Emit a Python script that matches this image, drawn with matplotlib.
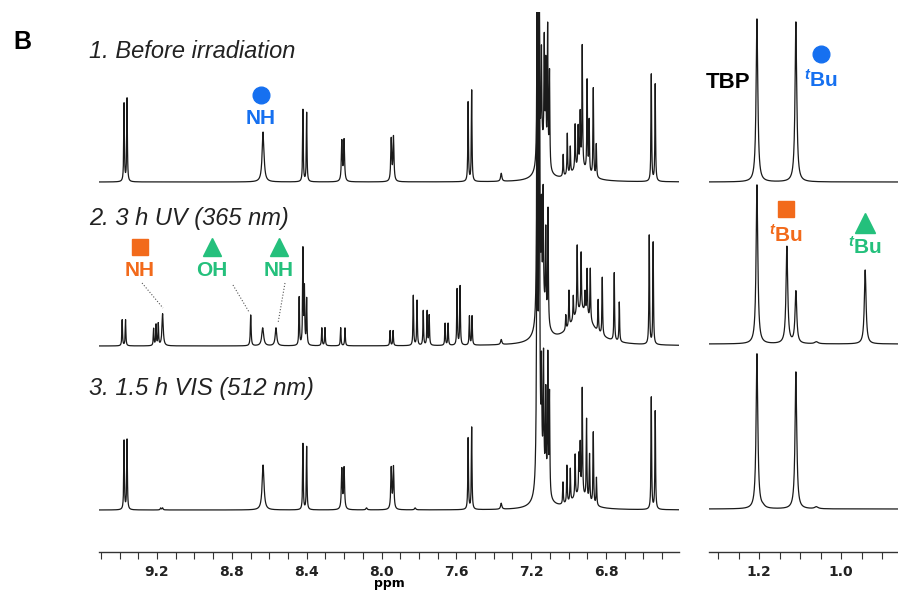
import numpy as np
import matplotlib
matplotlib.use("Agg")
from matplotlib import pyplot as plt
from matplotlib.ticker import MultipleLocator, FuncFormatter

plt.rcParams['font.family'] = ['Liberation Sans', 'DejaVu Sans']
plt.rcParams['mathtext.fontset'] = 'custom'
plt.rcParams['mathtext.rm'] = 'Liberation Sans:bold'
plt.rcParams['mathtext.it'] = 'Liberation Sans:italic:bold'
plt.rcParams['mathtext.bf'] = 'Liberation Sans:bold'

BLUE = "#1670f0"
ORANGE = "#f26a1b"
GREEN = "#24c07c"
LINE = "#1a1a1a"

# ---------------- peak lists (ppm, height, linewidth) ----------------
# aromatic window, 1. before irradiation
t1_ppm = [9.376, 9.360, 8.633, 8.420, 8.400, 8.212, 8.200, 7.948, 7.936, 7.537, 7.518,
          7.360, 7.168, 7.157, 7.145, 7.130, 7.122, 7.112, 7.102, 7.140,
          7.029, 7.007, 6.991, 6.965, 6.949, 6.938, 6.927, 6.901, 6.890, 6.868, 6.852, 6.940,
          6.558, 6.537]
t1_height = [78, 83, 50, 72, 69, 40, 41, 42, 44, 80, 91,
             8, 160, 150, 95, 110, 90, 135, 95, 32,
             22, 42, 27, 45, 40, 52, 122, 92, 52, 88, 33, 14,
             107, 98]
t1_width = [0.004, 0.004, 0.012, 0.004, 0.004, 0.006, 0.006, 0.006, 0.006, 0.004, 0.004,
            0.008, 0.005, 0.005, 0.004, 0.004, 0.004, 0.004, 0.004, 0.05,
            0.004, 0.004, 0.004, 0.004, 0.004, 0.004, 0.004, 0.004, 0.004, 0.004, 0.004, 0.10,
            0.004, 0.004]

# 2. 3 h UV (365 nm)
t2_ppm = [9.386, 9.368, 9.218, 9.205, 9.193, 9.170, 8.699, 8.635, 8.564,
          8.440, 8.420, 8.412, 8.400, 8.319, 8.302, 8.218, 8.195, 7.954, 7.938,
          7.830, 7.810, 7.777, 7.756, 7.745, 7.660, 7.644, 7.596, 7.580, 7.530, 7.516,
          7.360, 7.168, 7.157, 7.145, 7.136, 7.122, 7.110, 7.140,
          7.015, 6.998, 6.975, 6.954, 6.933, 6.912, 6.901, 6.884, 6.842, 6.820, 6.756, 6.729, 6.930,
          6.569, 6.548]
t2_height = [26, 26, 17, 21, 22, 32, 31, 18, 18,
             48, 95, 55, 46, 18, 18, 18, 18, 15, 15,
             50, 45, 35, 34, 30, 22, 22, 56, 59, 29, 29,
             5, 360, 360, 90, 110, 85, 115, 35,
             15, 36, 24, 68, 58, 20, 46, 52, 32, 58, 68, 40, 35,
             110, 102]
t2_width = [0.004, 0.004, 0.004, 0.004, 0.004, 0.008, 0.005, 0.012, 0.010,
            0.004, 0.004, 0.004, 0.004, 0.004, 0.004, 0.004, 0.004, 0.004, 0.004,
            0.004, 0.004, 0.004, 0.004, 0.004, 0.004, 0.004, 0.004, 0.004, 0.004, 0.004,
            0.008, 0.005, 0.005, 0.004, 0.004, 0.004, 0.004, 0.05,
            0.004, 0.004, 0.004, 0.004, 0.004, 0.004, 0.004, 0.004, 0.004, 0.004, 0.004, 0.004, 0.14,
            0.004, 0.004]

# 3. 1.5 h VIS (512 nm)
t3_ppm = [9.376, 9.360, 9.180, 9.170, 8.633, 8.420, 8.400, 8.212, 8.200, 8.080,
          7.948, 7.936, 7.820, 7.537, 7.518, 7.360,
          7.168, 7.157, 7.145, 7.134, 7.122, 7.111, 7.102, 7.140,
          7.030, 7.009, 6.991, 6.965, 6.945, 6.938, 6.927, 6.904, 6.888, 6.868, 6.851, 6.940,
          6.558, 6.537]
t3_height = [69, 70, 2, 2, 45, 66, 63, 40, 41, 2,
             41, 42, 2, 72, 82, 6,
             520, 520, 95, 115, 90, 135, 100, 32,
             22, 38, 33, 43, 38, 48, 107, 80, 47, 72, 28, 14,
             112, 99]
t3_width = [0.004, 0.004, 0.006, 0.006, 0.012, 0.004, 0.004, 0.006, 0.006, 0.008,
            0.006, 0.006, 0.008, 0.004, 0.004, 0.008,
            0.005, 0.005, 0.004, 0.004, 0.004, 0.004, 0.004, 0.05,
            0.004, 0.004, 0.004, 0.004, 0.004, 0.004, 0.004, 0.004, 0.004, 0.004, 0.004, 0.10,
            0.004, 0.004]

# aliphatic window (TBP + tBu)
r1_ppm = [1.205, 1.110]
r1_height = [163, 160]
r1_width = [0.005, 0.005]
r2_ppm = [1.205, 1.132, 1.110, 1.060, 0.941]
r2_height = [159, 97, 52, 2, 74]
r2_width = [0.005, 0.005, 0.005, 0.010, 0.005]
r3_ppm = [1.205, 1.190, 1.110, 1.060]
r3_height = [155, 1.5, 137, 2]
r3_width = [0.005, 0.010, 0.005, 0.010]

trace_titles = ["1. Before irradiation", "2. 3 h UV (365 nm)", "3. 1.5 h VIS (512 nm)"]


def spectrum(x, ppm, height, width):
    y = np.zeros_like(x)
    for p, h, w in zip(ppm, height, width):
        hw = w / 2
        y += h * hw**2 / ((x - p)**2 + hw**2)
    return y


W, H = 898, 598
fig = plt.figure(figsize=(W / 100, H / 100), dpi=100)


def rect(x0, y0, x1, y1):
    return [x0 / W, 1 - y1 / H, (x1 - x0) / W, (y1 - y0) / H]


def fpos(x, y):
    return x / W, 1 - y / H


axL = fig.add_axes(rect(99, 12, 679, 552))
axR = fig.add_axes(rect(709, 12, 898, 552))

xl = np.arange(6.40, 9.52, 0.0004)
xr = np.arange(0.85, 1.33, 0.0002)

left_sets = [(t1_ppm, t1_height, t1_width, 370),
             (t2_ppm, t2_height, t2_width, 206),
             (t3_ppm, t3_height, t3_width, 42)]
right_sets = [(r1_ppm, r1_height, r1_width, 370),
              (r2_ppm, r2_height, r2_width, 208),
              (r3_ppm, r3_height, r3_width, 43)]

for ppm, hh, ww, off in left_sets:
    axL.plot(xl, off + spectrum(xl, ppm, hh, ww), color=LINE, lw=0.9)
for ppm, hh, ww, off in right_sets:
    axR.plot(xr, off + spectrum(xr, ppm, hh, ww), color=LINE, lw=0.9)

axL.set_xlim(9.51, 6.41)
axR.set_xlim(1.322, 0.861)
for ax in (axL, axR):
    ax.set_ylim(0, 540)
    for s in ("top", "left", "right"):
        ax.spines[s].set_visible(False)
    ax.spines["bottom"].set_color("#333333")
    ax.spines["bottom"].set_linewidth(1.0)
    ax.set_yticks([])
    ax.tick_params(axis="x", direction="out", length=5, width=0.8, color="#333333",
                   labelsize=10, pad=4)
    ax.patch.set_visible(False)

axL.xaxis.set_major_locator(MultipleLocator(0.1))
axL.xaxis.set_major_formatter(FuncFormatter(
    lambda v, p: f"{v:.1f}" if abs(v * 10 - round(v * 10)) < 1e-6 and round(v * 10) % 4 == 0 else ""))
axR.xaxis.set_major_locator(MultipleLocator(0.05))
axR.xaxis.set_major_formatter(FuncFormatter(
    lambda v, p: f"{v:.1f}" if abs(v * 20 - round(v * 20)) < 1e-6 and round(v * 20) % 4 == 0 else ""))
for ax in (axL, axR):
    for lab in ax.get_xticklabels():
        lab.set_fontfamily("DejaVu Sans")
        lab.set_fontweight("bold")
        lab.set_color("#222222")
axL.set_xlabel("ppm", fontfamily="DejaVu Sans", fontweight="bold", fontsize=9, labelpad=-1)

# panel letter and trace titles
fig.text(*fpos(13, 42), "B", fontsize=18, fontweight="bold", va="center", ha="left")
for title, yc in zip(trace_titles, [52, 218, 388]):
    fig.text(*fpos(89, yc), title, fontsize=17, fontstyle="italic", va="center", ha="left",
             color="#222222")

# annotations, aromatic window
axL.plot(8.644, 457, "o", ms=12, color=BLUE, clip_on=False)
axL.text(8.644, 434, "NH", color=BLUE, fontsize=15, fontweight="bold", ha="center", va="center")

axL.plot(9.291, 305, "s", ms=11, color=ORANGE, clip_on=False)
axL.text(9.291, 282, "NH", color=ORANGE, fontsize=15, fontweight="bold", ha="center", va="center")
axL.plot(8.906, 305, "^", ms=13, color=GREEN, clip_on=False)
axL.text(8.906, 282, "OH", color=GREEN, fontsize=15, fontweight="bold", ha="center", va="center")
axL.plot(8.548, 305, "^", ms=13, color=GREEN, clip_on=False)
axL.text(8.548, 282, "NH", color=GREEN, fontsize=15, fontweight="bold", ha="center", va="center")

for (xa, ya), (xb, yb) in [((9.280, 269), (9.168, 244)),
                           ((8.794, 267), (8.708, 240)),
                           ((8.516, 269), (8.553, 229))]:
    axL.plot([xa, xb], [ya, yb], ls=":", lw=0.8, color="#555555")

# annotations, aliphatic window
axR.text(1.2756, 470, "TBP", color="black", fontsize=16, fontweight="bold", ha="center", va="center")
axR.plot(1.049, 498, "o", ms=12, color=BLUE, clip_on=False)
axR.text(1.049, 472, r"$^{t}$Bu", color=BLUE, fontsize=15, fontweight="bold", ha="center", va="center")
axR.plot(1.134, 343, "s", ms=12, color=ORANGE, clip_on=False)
axR.text(1.134, 317, r"$^{t}$Bu", color=ORANGE, fontsize=15, fontweight="bold", ha="center", va="center")
axR.plot(0.941, 329, "^", ms=14, color=GREEN, clip_on=False)
axR.text(0.941, 305, r"$^{t}$Bu", color=GREEN, fontsize=15, fontweight="bold", ha="center", va="center")

fig.savefig("out.png", dpi=100)
